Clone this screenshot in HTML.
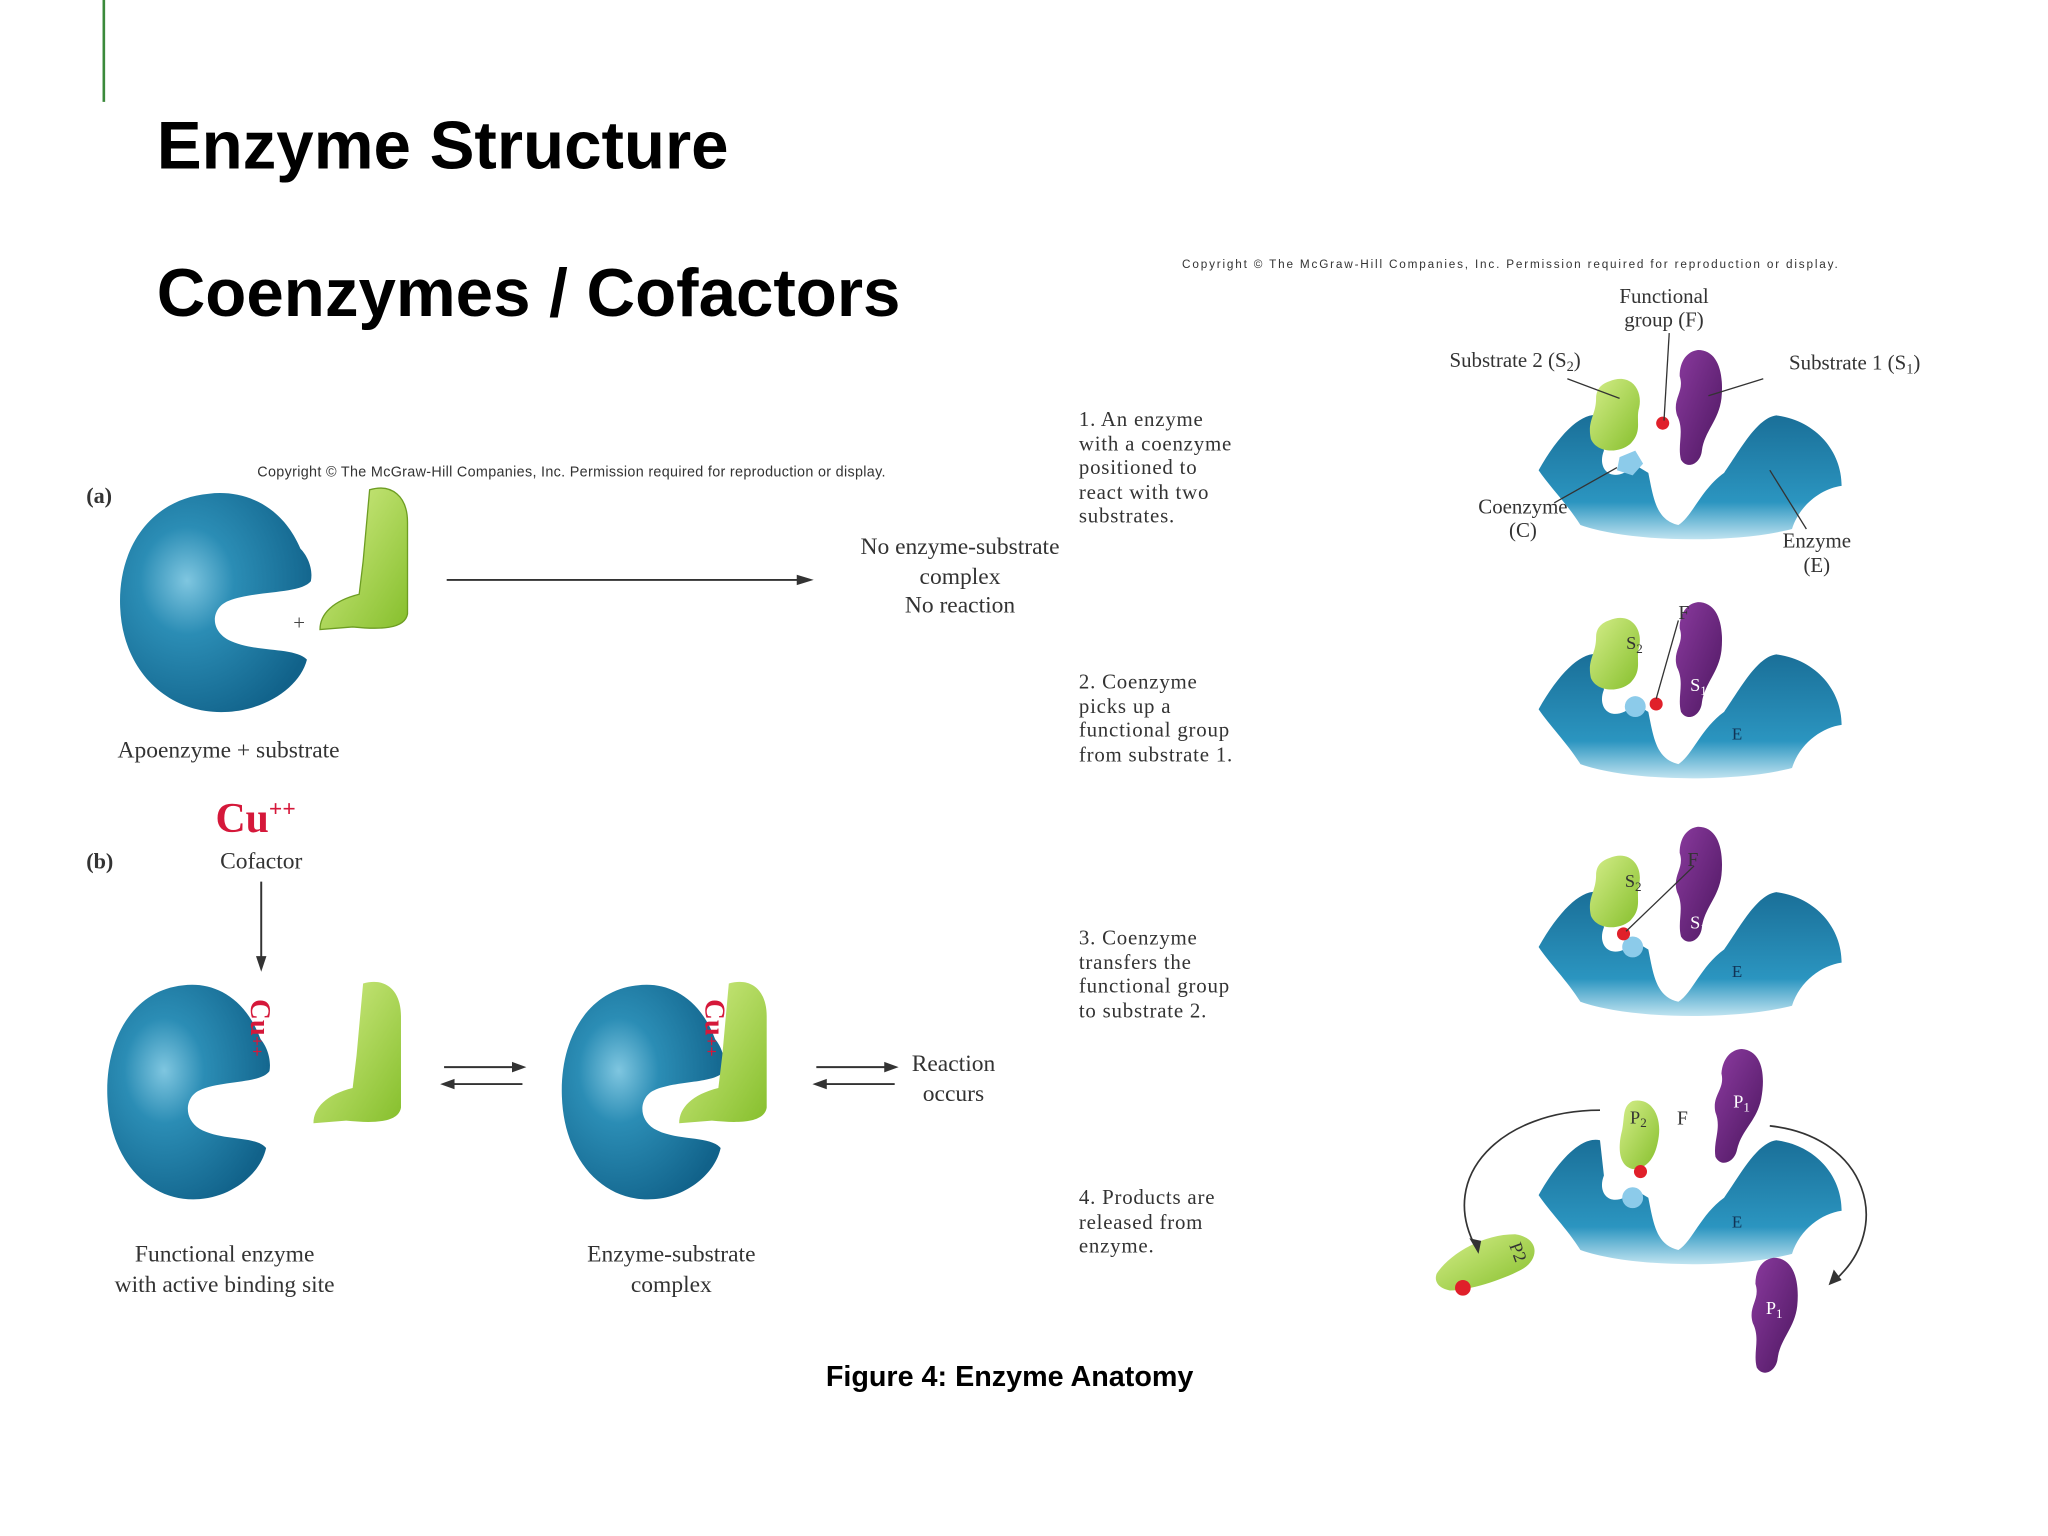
<!DOCTYPE html>
<html><head><meta charset="utf-8"><style>
html,body{margin:0;padding:0;background:#fff;}
svg{display:block;}
</style></head><body>
<svg width="2048" height="1536" viewBox="0 0 1568 1176" xmlns="http://www.w3.org/2000/svg" font-family="Liberation Serif, serif">
<defs>
<radialGradient id="bl" cx="0.35" cy="0.4" r="0.7"><stop offset="0" stop-color="#7fc6e0"/><stop offset="0.35" stop-color="#2b8db5"/><stop offset="1" stop-color="#11628a"/></radialGradient>
<linearGradient id="eb" x1="0" y1="0" x2="0" y2="1"><stop offset="0" stop-color="#1a6f98"/><stop offset="0.7" stop-color="#2b95c0"/><stop offset="1" stop-color="#bfe3f0"/></linearGradient>
<linearGradient id="gr" x1="0" y1="0" x2="1" y2="1"><stop offset="0" stop-color="#d5ee8a"/><stop offset="1" stop-color="#86bf2c"/></linearGradient>
<linearGradient id="pu" x1="0" y1="0" x2="1" y2="1"><stop offset="0" stop-color="#8a3a9e"/><stop offset="1" stop-color="#4d1760"/></linearGradient>
<path id="cshape" d="M230,420 C215,385 185,375 160,378 C115,382 90,420 92,465 C94,515 130,548 175,545 C205,543 230,525 235,505 C225,495 195,500 175,490 C160,482 162,465 175,460 C195,452 230,455 238,445 C240,435 235,425 230,420 Z"/>
<path id="sub" d="M283,375 C300,370 312,380 312,400 L312,470 C310,482 290,482 270,480 L245,482 C245,470 255,460 275,455 L278,430 Z"/>
<path id="enz" d="M1178,360 C1195,330 1212,315 1225,318 L1228,345 C1222,360 1235,372 1252,356 L1262,362 C1266,382 1268,398 1285,402 C1296,395 1302,375 1320,362 C1332,345 1345,320 1360,318 C1390,322 1410,345 1410,372 C1395,374 1378,386 1372,405 C1330,416 1250,416 1210,402 C1200,386 1186,372 1178,360 Z"/>
<path id="s2" d="M1232,292 C1248,285 1258,298 1255,312 C1252,322 1258,330 1248,340 C1238,348 1222,346 1218,336 C1215,322 1222,318 1222,305 C1222,298 1226,294 1232,292 Z"/>
<path id="s1" d="M1300,268 C1315,268 1320,285 1318,305 C1316,322 1305,330 1303,345 C1302,355 1292,360 1287,352 C1284,340 1290,330 1284,318 C1280,305 1290,300 1286,288 C1286,276 1292,269 1300,268 Z"/>
</defs>
<rect width="1568" height="1176" fill="#fff"/>
<line x1="79.5" y1="0" x2="79.5" y2="78" stroke="#3b8a3b" stroke-width="2"/>
<g font-family="Liberation Sans, sans-serif" font-weight="bold" fill="#000">
<text x="120" y="129" font-size="51.5">Enzyme Structure</text>
<text x="120" y="242" font-size="51.5">Coenzymes / Cofactors</text>
<text x="773" y="1061" font-size="22" text-anchor="middle">Figure 4: Enzyme Anatomy</text>
</g>
<text x="197" y="365" font-family="Liberation Sans, sans-serif" font-size="11" fill="#333" textLength="481">Copyright © The McGraw-Hill Companies, Inc. Permission required for reproduction or display.</text>
<text x="66" y="385" font-size="17" font-weight="bold" fill="#333">(a)</text>
<use href="#cshape" fill="url(#bl)"/>
<use href="#sub" fill="url(#gr)" stroke="#6d9d22" stroke-width="1"/>
<text x="229" y="482" font-size="16" fill="#444" text-anchor="middle">+</text>
<line x1="342" y1="444" x2="615" y2="444" stroke="#333" stroke-width="1.5"/>
<polygon points="623,444 610,440 610,448" fill="#333"/>
<g font-size="18" fill="#333" text-anchor="middle">
<text x="735" y="424">No enzyme-substrate</text><text x="735" y="447">complex</text><text x="735" y="469">No reaction</text>
<text x="175" y="580">Apoenzyme + substrate</text>
<text x="200" y="665">Cofactor</text>
<text x="172" y="966">Functional enzyme</text><text x="172" y="989">with active binding site</text>
<text x="514" y="966">Enzyme-substrate</text><text x="514" y="989">complex</text>
<text x="730" y="820">Reaction</text><text x="730" y="843">occurs</text>
</g>
<text x="66" y="665" font-size="17" font-weight="bold" fill="#333">(b)</text>
<text x="165" y="637" font-size="32" font-weight="bold" fill="#d5183a">Cu<tspan font-size="18" dy="-12">++</tspan></text>
<line x1="200" y1="675" x2="200" y2="735" stroke="#333" stroke-width="1.5"/>
<polygon points="200,744 196,732 204,732" fill="#333"/>
<use href="#cshape" fill="url(#bl)" transform="translate(4,384) scale(0.85,0.98)"/>
<use href="#cshape" fill="url(#bl)" transform="translate(352,384) scale(0.85,0.98)"/>
<text x="192" y="765" font-size="22" font-weight="bold" fill="#d5183a" transform="rotate(90 192 765)">Cu<tspan font-size="14">++</tspan></text>
<text x="540" y="765" font-size="22" font-weight="bold" fill="#d5183a" transform="rotate(90 540 765)">Cu<tspan font-size="14">++</tspan></text>
<use href="#sub" fill="url(#gr)" transform="translate(-5,378)"/>
<use href="#sub" fill="url(#gr)" transform="translate(275,378)"/>
<g stroke="#333" stroke-width="1.5">
<line x1="340" y1="817" x2="395" y2="817"/><line x1="345" y1="830" x2="400" y2="830"/>
<line x1="625" y1="817" x2="680" y2="817"/><line x1="630" y1="830" x2="685" y2="830"/>
</g>
<polygon points="403,817 392,813 392,821" fill="#333"/><polygon points="337,830 348,826 348,834" fill="#333"/>
<polygon points="688,817 677,813 677,821" fill="#333"/><polygon points="622,830 633,826 633,834" fill="#333"/>
<text x="905" y="205" font-family="Liberation Sans, sans-serif" font-size="9" fill="#333" textLength="502">Copyright © The McGraw-Hill Companies, Inc. Permission required for reproduction or display.</text>
<g font-size="16" fill="#333" letter-spacing="0.6">
<text x="826" y="326">1. An enzyme</text><text x="826" y="345">with a coenzyme</text><text x="826" y="363">positioned to</text><text x="826" y="382">react with two</text><text x="826" y="400">substrates.</text>
<text x="826" y="527">2. Coenzyme</text><text x="826" y="546">picks up a</text><text x="826" y="564">functional group</text><text x="826" y="583">from substrate 1.</text>
<text x="826" y="723">3. Coenzyme</text><text x="826" y="742">transfers the</text><text x="826" y="760">functional group</text><text x="826" y="779">to substrate 2.</text>
<text x="826" y="922">4. Products are</text><text x="826" y="941">released from</text><text x="826" y="959">enzyme.</text>
</g>
<g font-size="16" fill="#333" text-anchor="middle">
<text x="1274" y="232">Functional</text><text x="1274" y="250">group (F)</text>
<text x="1160" y="281">Substrate 2 (S<tspan font-size="11" dy="3">2</tspan><tspan dy="-3">)</tspan></text>
<text x="1420" y="283">Substrate 1 (S<tspan font-size="11" dy="3">1</tspan><tspan dy="-3">)</tspan></text>
<text x="1166" y="393">Coenzyme</text><text x="1166" y="411">(C)</text>
<text x="1391" y="419">Enzyme</text><text x="1391" y="438">(E)</text>
</g>
<use href="#enz" fill="url(#eb)"/>
<use href="#s2" fill="url(#gr)"/><use href="#s1" fill="url(#pu)"/>
<polygon points="1240,350 1252,345 1258,355 1250,364 1238,360" fill="#8ccbea"/>
<circle cx="1273" cy="324" r="5" fill="#e0202a"/>
<g stroke="#333" stroke-width="1"><line x1="1278" y1="255" x2="1274" y2="322"/><line x1="1200" y1="290" x2="1240" y2="305"/><line x1="1350" y1="290" x2="1308" y2="303"/><line x1="1190" y1="385" x2="1238" y2="358"/><line x1="1383" y1="405" x2="1355" y2="360"/></g>
<g transform="translate(0,183)">
<use href="#enz" fill="url(#eb)"/><use href="#s2" fill="url(#gr)"/><use href="#s1" fill="url(#pu)" transform="translate(0,10)"/>
<circle cx="1252" cy="358" r="8" fill="#8ccbea"/><circle cx="1268" cy="356" r="5" fill="#e0202a"/>
<line x1="1285" y1="292" x2="1268" y2="352" stroke="#333"/>
<text x="1285" y="291" font-size="15" fill="#333">F</text>
<text x="1245" y="314" font-size="14" fill="#333">S<tspan font-size="10" dy="3">2</tspan></text>
<text x="1294" y="346" font-size="14" fill="#fff">S<tspan font-size="10" dy="3">1</tspan></text>
<text x="1326" y="383" font-size="13" fill="#135">E</text>
</g>
<g transform="translate(0,365)">
<use href="#enz" fill="url(#eb)"/><use href="#s2" fill="url(#gr)"/><use href="#s1" fill="url(#pu)"/>
<circle cx="1250" cy="360" r="8" fill="#8ccbea"/><circle cx="1243" cy="350" r="5" fill="#e0202a"/>
<line x1="1297" y1="298" x2="1245" y2="348" stroke="#333"/>
<text x="1292" y="298" font-size="15" fill="#333">F</text>
<text x="1244" y="314" font-size="14" fill="#333">S<tspan font-size="10" dy="3">2</tspan></text>
<text x="1294" y="346" font-size="14" fill="#fff">S<tspan font-size="10" dy="3">1</tspan></text>
<text x="1326" y="383" font-size="13" fill="#135">E</text>
</g>
<g transform="translate(0,555)">
<use href="#enz" fill="url(#eb)"/>
<path d="M1250,288 C1265,285 1272,300 1270,315 C1268,330 1262,340 1250,340 C1240,338 1238,325 1242,310 C1244,300 1242,292 1250,288 Z" fill="url(#gr)"/>
<circle cx="1250" cy="362" r="8" fill="#8ccbea"/><circle cx="1256" cy="342" r="5" fill="#e0202a"/>
<text x="1248" y="305" font-size="14" fill="#333">P<tspan font-size="10" dy="3">2</tspan></text>
<text x="1284" y="306" font-size="15" fill="#333">F</text>
<text x="1326" y="385" font-size="13" fill="#135">E</text>
</g>
<use href="#s1" fill="url(#pu)" transform="translate(30,535) rotate(5 1300 310)"/>
<text x="1327" y="848" font-size="14" fill="#fff">P<tspan font-size="10" dy="3">1</tspan></text>
<use href="#s1" fill="url(#pu)" transform="translate(58,695)"/>
<text x="1352" y="1006" font-size="14" fill="#fff">P<tspan font-size="10" dy="3">1</tspan></text>
<path d="M1100,975 C1110,960 1135,945 1160,945 C1180,948 1178,965 1165,972 C1150,980 1125,988 1110,988 C1100,986 1098,980 1100,975 Z" fill="url(#gr)"/>
<circle cx="1120" cy="986" r="6" fill="#e0202a"/>
<text x="1155" y="960" font-size="14" fill="#333" transform="rotate(70 1160 957)">P2</text>
<g fill="none" stroke="#333" stroke-width="1.3">
<path d="M1225,850 C1150,850 1100,900 1130,955"/>
<path d="M1355,862 C1430,870 1450,940 1405,980"/>
</g>
<polygon points="1132,960 1125,948 1134,950" fill="#333"/>
<polygon points="1400,984 1404,972 1410,980" fill="#333"/>
</svg>
</body></html>
